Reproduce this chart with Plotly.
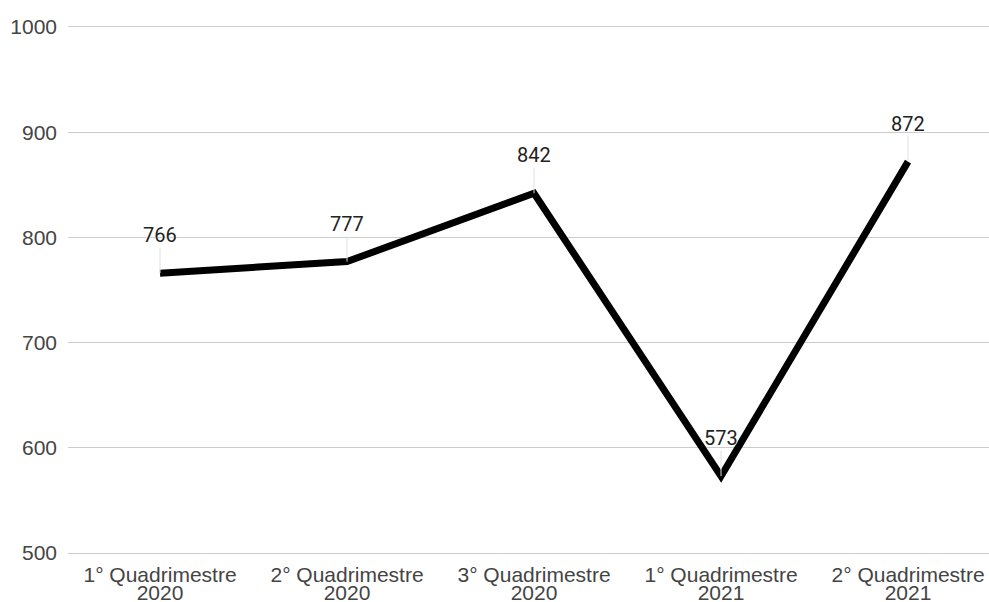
import plotly.graph_objects as go

# Quarterly-period (quadrimestre) totals
periods = [
    "1° Quadrimestre",
    "2° Quadrimestre",
    "3° Quadrimestre",
    "1° Quadrimestre",
    "2° Quadrimestre",
]
years = ["2020", "2020", "2020", "2021", "2021"]
values = [766, 777, 842, 573, 872]
y_ticks = [500, 600, 700, 800, 900, 1000]

categories = [f"{p} {y}" for p, y in zip(periods, years)]

tick_font = dict(family="Liberation Sans, Arial, sans-serif", size=21, color="#444444")
x_range = [-0.492, 4.433]

fig = go.Figure()
fig.add_trace(go.Scatter(
    x=categories,
    y=values,
    mode="lines",
    line=dict(color="#000000", width=7),
    hoverinfo="skip",
    showlegend=False,
))
# Invisible companion trace so the second (year) axis row has the same categories
fig.add_trace(go.Scatter(
    x=categories, y=values, xaxis="x2", mode="lines",
    line=dict(width=0), opacity=0, hoverinfo="skip", showlegend=False,
))

# Value labels sitting above each point with a thin leader line
for c, v in zip(categories, values):
    fig.add_annotation(
        x=c, y=v, text=str(v),
        showarrow=True, arrowhead=0, arrowwidth=1, arrowcolor="#e0e0e0",
        ax=0, ay=-38, standoff=0,
        borderpad=0,
        font=dict(family="Roboto, Arial, sans-serif", size=20, color="#222222",
                  shadow="0 0 2px #ffffff, 0 0 2px #ffffff, 0 0 1px #ffffff"),
    )

fig.update_layout(
    width=989, height=602,
    margin=dict(l=68, r=0, t=27, b=49),
    paper_bgcolor="#ffffff",
    plot_bgcolor="#ffffff",
    xaxis=dict(
        type="category", categoryorder="array", categoryarray=categories,
        range=x_range, automargin=False,
        showgrid=False, zeroline=False,
        showline=True, mirror=True, linecolor="#cccccc", linewidth=1,
        ticks="", fixedrange=True,
        tickvals=categories, ticktext=periods,
        ticklabelstandoff=3,
        tickfont=tick_font,
    ),
    xaxis2=dict(
        type="category", categoryorder="array", categoryarray=categories,
        range=x_range, automargin=False,
        overlaying="x", anchor="y", side="bottom",
        showgrid=False, zeroline=False, showline=False,
        ticks="", fixedrange=True,
        tickvals=categories, ticktext=years,
        ticklabelstandoff=25,
        tickfont=tick_font,
    ),
    yaxis=dict(
        range=[500, 1000], automargin=False,
        tickvals=y_ticks,
        showgrid=True, gridcolor="#cccccc", gridwidth=1,
        zeroline=False, showline=False, ticks="",
        ticklabelstandoff=10,
        tickfont=tick_font,
    ),
)

fig.write_html("out.html")
